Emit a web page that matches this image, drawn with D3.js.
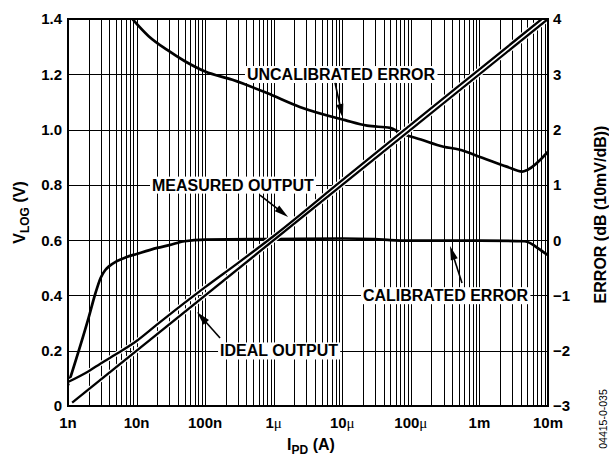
<!DOCTYPE html>
<html><head><meta charset="utf-8">
<script src="https://cdn.jsdelivr.net/npm/d3@7"></script>
<style>
body{margin:0;background:#fff}
svg text{font-family:"Liberation Sans",Arial,Helvetica,sans-serif;font-weight:bold;fill:#000}
</style>
</head><body>
<svg id="chart" width="609" height="456"></svg>
<script>
// ---- data ----
const decades = [1e-9,1e-8,1e-7,1e-6,1e-5,1e-4,1e-3,1e-2];
const decadeLabels = ["1n","10n","100n","1μ","10μ","100μ","1m","10m"];
const vTicks = [0,0.2,0.4,0.6,0.8,1.0,1.2,1.4];
const vTickLabels = ["0","0.2","0.4","0.6","0.8","1.0","1.2","1.4"];
const errTicks = [-3,-2,-1,0,1,2,3,4];
const errTickLabels = ["−3","−2","−1","0","1","2","3","4"];

const idealI = [1.15e-9, 1e-2];
const idealV = [0.012, 1.4];

const measuredI = [1e-9,2e-9,3e-9,5e-9,1e-8,2e-8,5e-8,1e-7,3e-7,1e-6,1e-5,1e-4,1e-3,1e-2];
const measuredV = [0.087,0.126,0.154,0.187,0.235,0.295,0.373,0.43,0.517,0.615,0.817,1.018,1.218,1.418];

const calI  = [1e-9,2e-9,2.5e-9,3e-9,3.5e-9,4e-9,5e-9,7e-9,1e-8,2e-8,3e-8,5e-8,1e-7,1e-6,1e-5,3e-5,5e-5,1e-4,1e-3,4.5e-3,6e-3,7e-3,1e-2];
const calDB = [-2.62,-1.40,-0.97,-0.68,-0.54,-0.47,-0.39,-0.31,-0.25,-0.14,-0.09,-0.02,0.01,0.02,0.03,0.02,0.0,-0.01,-0.01,-0.02,-0.08,-0.14,-0.27];

const uncalI  = [8e-9,1.5e-8,2.8e-8,5e-8,1e-7,2.5e-7,8e-7,2.4e-6,1.1e-5,2.3e-5,5e-5,7e-5,1.4e-4,3e-4,5e-4,1.1e-3,2.5e-3,4.2e-3,5e-3,1e-2];
const uncalDB = [4.05,3.69,3.44,3.24,3.05,2.90,2.66,2.41,2.17,2.07,2.03,1.94,1.82,1.69,1.64,1.49,1.33,1.24,1.27,1.60];

const annoText  = ["UNCALIBRATED ERROR","MEASURED OUTPUT","CALIBRATED ERROR","IDEAL OUTPUT"];
const annoTextI = [4.07e-7,1.68e-8,2.0e-5,1.65e-7];
const annoTextV = [1.2,0.8,0.4,0.2];
const arrowTailI = [7.83e-6,6.3e-7,5.57e-4,1.65e-7];
const arrowTailV = [1.169,0.763,0.445,0.246];
const arrowTipI  = [1.02e-5,1.62e-6,3.72e-4,7.6e-8];
const arrowTipV  = [1.042,0.684,0.579,0.340];

// ---- layout ----
const L=68, R=548, T=19, B=406;
const svg = d3.select("#chart");
const x = d3.scaleLog().domain([1e-9,1e-2]).range([L,R]);
const yV = d3.scaleLinear().domain([0,1.4]).range([B,T]);
const yE = d3.scaleLinear().domain([-3,4]).range([B,T]);

svg.append("rect").attr("width",609).attr("height",456).attr("fill","#fff");

// grid
const minor = [];
decades.forEach((d,i)=>{ if(i<decades.length-1) for(let k=1;k<10;k++) minor.push(d*k); });
minor.push(1e-2);
const grid = svg.append("g").attr("shape-rendering","crispEdges");
grid.append("g").attr("transform",`translate(0,${B})`)
  .call(d3.axisBottom(x).tickValues(minor).tickSize(-(B-T)).tickFormat(""))
  .call(g=>{g.select(".domain").remove(); g.selectAll("line").attr("stroke","#000").attr("stroke-width",1);});
grid.append("g").attr("transform",`translate(${L},0)`)
  .call(d3.axisLeft(yV).tickValues(vTicks).tickSize(-(R-L)).tickFormat(""))
  .call(g=>{g.select(".domain").remove(); g.selectAll("line").attr("stroke","#000").attr("stroke-width",1);});

// clip
svg.append("clipPath").attr("id","clip").append("rect").attr("x",L).attr("y",T).attr("width",R-L).attr("height",B-T);

const plot = svg.append("g").attr("clip-path","url(#clip)");
const lineV = d3.line().x(d=>x(d[0])).y(d=>yV(d[1])).curve(d3.curveMonotoneX);
const lineE = d3.line().x(d=>x(d[0])).y(d=>yE(d[1])).curve(d3.curveMonotoneX);
const zip=(a,b)=>a.map((v,i)=>[v,b[i]]);

// error curves
plot.append("path").attr("d",lineE(zip(uncalI,uncalDB))).attr("fill","none").attr("stroke","#000").attr("stroke-width",2.7);
plot.append("path").attr("d",lineE(zip(calI,calDB))).attr("fill","none").attr("stroke","#000").attr("stroke-width",2.7);

// output lines with white casing so the gap is clean
const outs=[zip(idealI,idealV), zip(measuredI,measuredV)];
outs.forEach(d=>plot.append("path").attr("d",lineV(d)).attr("fill","none").attr("stroke","#fff").attr("stroke-width",4.6));
outs.forEach(d=>plot.append("path").attr("d",lineV(d)).attr("fill","none").attr("stroke","#000").attr("stroke-width",2.3));

// border
svg.append("rect").attr("x",L).attr("y",T).attr("width",R-L).attr("height",B-T)
  .attr("fill","none").attr("stroke","#000").attr("stroke-width",2);

// annotations
const ann = svg.append("g");
annoText.forEach((t,i)=>{
  const g = ann.append("g");
  const tx = g.append("text").attr("x",x(annoTextI[i])).attr("y",yV(annoTextV[i])).attr("dy","0.36em")
    .attr("font-size",16).text(t);
  const bb = tx.node().getBBox();
  g.insert("rect","text").attr("x",bb.x-2).attr("y",bb.y).attr("width",bb.width+4).attr("height",bb.height).attr("fill","#fff");
  const x0=x(arrowTailI[i]), y0=yV(arrowTailV[i]), x1=x(arrowTipI[i]), y1=yV(arrowTipV[i]);
  const dx=x1-x0, dy=y1-y0, len=Math.hypot(dx,dy), ux=dx/len, uy=dy/len;
  const hl=14, hw=3.6;
  const bx=x1-ux*hl, by=y1-uy*hl;
  g.append("line").attr("x1",x0).attr("y1",y0).attr("x2",bx+ux*2).attr("y2",by+uy*2).attr("stroke","#000").attr("stroke-width",1.6);
  g.append("path").attr("d",`M${x1},${y1}L${bx-uy*hw},${by+ux*hw}L${bx+uy*hw},${by-ux*hw}Z`).attr("fill","#000");
});

// tick labels
svg.append("g").selectAll("text").data(vTicks).join("text")
  .attr("x",L-6).attr("y",d=>yV(d)).attr("dy","0.36em").attr("text-anchor","end").attr("font-size",15)
  .text((d,i)=>vTickLabels[i]);
svg.append("g").selectAll("text").data(errTicks).join("text")
  .attr("x",R+5).attr("y",d=>yE(d)).attr("dy","0.36em").attr("text-anchor","start").attr("font-size",15)
  .text((d,i)=>errTickLabels[i]);
const xl = svg.append("g").selectAll("text").data(decades).join("text")
  .attr("x",d=>x(d)).attr("y",428).attr("text-anchor","middle").attr("font-size",15);
xl.each(function(d,i){
  const s=decadeLabels[i], t=d3.select(this);
  if(s.includes("μ")){
    t.append("tspan").text(s.replace("μ",""));
    t.append("tspan").attr("font-family","'Liberation Serif',serif").attr("font-weight","normal").text("μ");
  } else t.text(s);
});

// axis titles
const yt = svg.append("text").attr("transform",`translate(25,${(T+B)/2}) rotate(-90)`).attr("text-anchor","middle").attr("font-size",16);
yt.append("tspan").text("V");
yt.append("tspan").attr("font-size",12).attr("dy",4).text("LOG");
yt.append("tspan").attr("dy",-4).text(" (V)");

const xt = svg.append("text").attr("x",(L+R)/2+3).attr("y",450).attr("text-anchor","middle").attr("font-size",16);
xt.append("tspan").text("I");
xt.append("tspan").attr("font-size",12).attr("dy",4).text("PD");
xt.append("tspan").attr("dy",-4).text(" (A)");

svg.append("text").attr("transform",`translate(606,${(T+B)/2+2}) rotate(-90)`).attr("text-anchor","middle").attr("font-size",16)
  .text("ERROR (dB (10mV/dB))");

svg.append("text").attr("transform",`translate(607,419) rotate(-90)`).attr("text-anchor","middle").attr("font-size",10.5)
  .attr("font-weight","normal").style("font-weight","normal").attr("fill","#333").text("04415-0-035");
</script>
</body></html>
